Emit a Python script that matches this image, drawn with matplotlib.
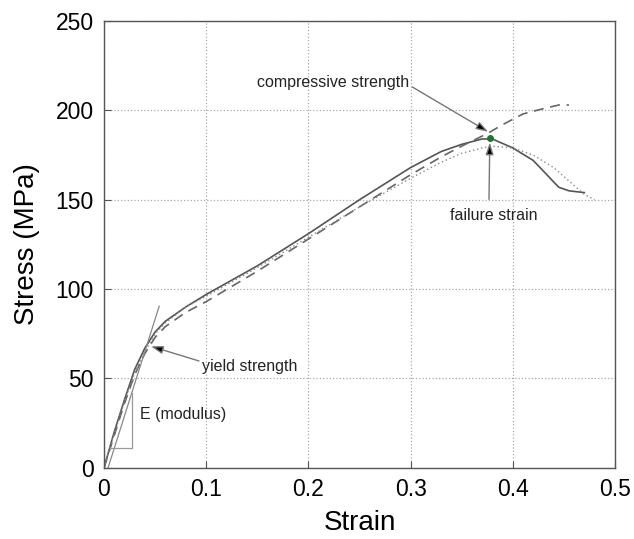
import matplotlib
matplotlib.use("Agg")
import matplotlib.pyplot as plt
import numpy as np

plt.rcParams['font.family'] = ['Liberation Sans', 'DejaVu Sans']

# solid curve (specimen 1)
strain_a = [0.0, 0.005, 0.01, 0.02, 0.03, 0.04, 0.05, 0.06, 0.08, 0.10, 0.15,
            0.20, 0.25, 0.30, 0.33, 0.35, 0.37, 0.38, 0.40, 0.42, 0.435, 0.445, 0.455, 0.47]
stress_a = [0.0, 10, 20, 38, 55, 67, 76, 82, 90, 97, 113,
            131, 150, 168, 177, 181, 184, 184, 179, 172, 163, 157, 155, 154]

# dashed curve (specimen 2)
strain_b = [0.0, 0.005, 0.01, 0.02, 0.03, 0.04, 0.05, 0.06, 0.08, 0.10, 0.15,
            0.20, 0.25, 0.30, 0.33, 0.35, 0.375, 0.39, 0.41, 0.43, 0.445, 0.455]
stress_b = [0.0, 9, 18, 36, 52, 64, 73, 79, 87, 93, 110,
            128, 146, 164, 174, 180, 187, 192, 198, 201, 203, 203]

# dotted curve (specimen 3)
strain_c = [0.0, 0.005, 0.01, 0.02, 0.03, 0.04, 0.05, 0.06, 0.08, 0.10, 0.15,
            0.20, 0.25, 0.30, 0.33, 0.35, 0.37, 0.38, 0.40, 0.42, 0.44, 0.46, 0.47, 0.48]
stress_c = [0.0, 10, 19, 37, 53, 65, 75, 81, 90, 96, 112,
            129, 146, 162, 171, 176, 179, 180, 179, 175, 168, 158, 153, 150]

# modulus tangent line and triangle
tangent_x = [0.004, 0.054]
tangent_y = [0.0, 90.4]
tri_x = [0.0055, 0.027, 0.027]
tri_y = [11.3, 11.3, 41.6]

peak = (0.3775, 184.5)

fig = plt.figure(figsize=(6.34, 5.39), dpi=100)
ax = fig.add_axes([0.164, 0.132, 0.806, 0.829])

ax.plot(strain_a, stress_a, color='#555555', lw=1.2, ls='-')
ax.plot(strain_b, stress_b, color='#666666', lw=1.2, ls=(0, (6, 4)))
ax.plot(strain_c, stress_c, color='#888888', lw=1.0, ls=(0, (1, 2)))
ax.plot(tangent_x, tangent_y, color='#888888', lw=0.9)
ax.plot(tri_x, tri_y, color='#999999', lw=0.9)
ax.plot(*peak, 'o', color='#1a7a2a', ms=4)

arrow = dict(arrowstyle='-|>,head_length=0.55,head_width=0.18', fc='black',
             ec='#777777', lw=1.0, mutation_scale=13, shrinkA=0, shrinkB=0)
ax.annotate('compressive strength', xy=(0.376, 188), xytext=(0.2245, 215.7),
            ha='center', va='center', fontsize=11.5, color='#222222',
            arrowprops=dict(arrow, relpos=(1.0, 0.3)))
ax.annotate('failure strain', xy=(0.3775, 182), xytext=(0.381, 141),
            ha='center', va='center', fontsize=11.5, color='#222222',
            arrowprops=dict(arrow, relpos=(0.45, 1.6)))
ax.annotate('yield strength', xy=(0.046, 68), xytext=(0.0957, 56.8),
            ha='left', va='center', fontsize=11.5, color='#222222',
            arrowprops=dict(arrow, relpos=(0.0, 0.8)))
ax.text(0.0356, 29.6, 'E (modulus)', ha='left', va='center',
        fontsize=11.5, color='#222222')

ax.set_xlim(0, 0.5)
ax.set_ylim(0, 250)
ax.set_xticks([0, 0.1, 0.2, 0.3, 0.4, 0.5])
ax.set_xticklabels(['0', '0.1', '0.2', '0.3', '0.4', '0.5'])
ax.set_yticks([0, 50, 100, 150, 200, 250])
ax.grid(True, ls=':', color='#aaaaaa', lw=0.9)
ax.tick_params(direction='in', length=5, labelsize=16.5, color='#555555', pad=7.5)
for s in ax.spines.values():
    s.set_color('#555555')
    s.set_linewidth(1.0)
ax.set_xlabel('Strain', fontsize=20, labelpad=6)
ax.set_ylabel('Stress (MPa)', fontsize=20, labelpad=11)

fig.savefig('out.png', dpi=100)
